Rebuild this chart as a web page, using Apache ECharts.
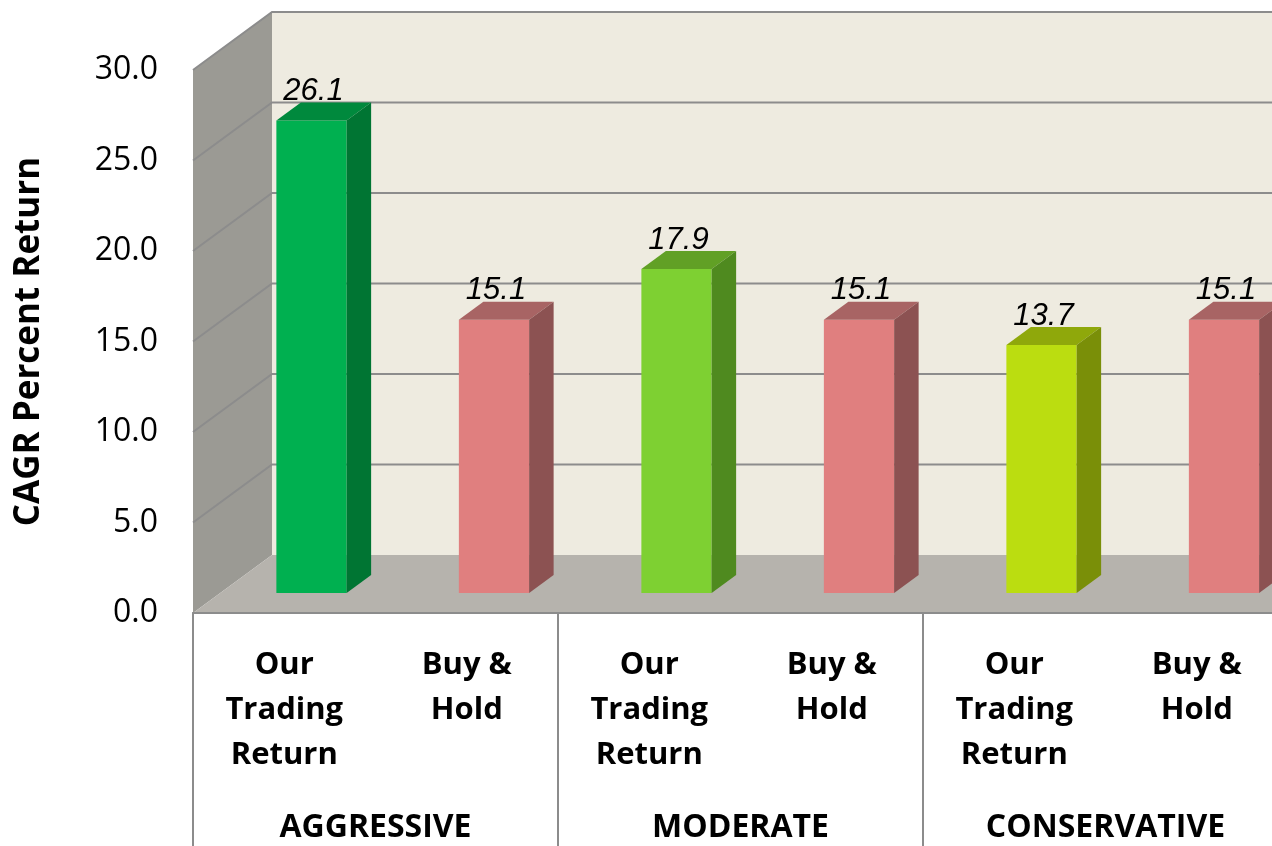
<!DOCTYPE html>
<html>
<head>
<meta charset="utf-8">
<script src="https://cdn.jsdelivr.net/npm/echarts@6/dist/echarts.min.js"></script>
<style>
  html, body { margin: 0; padding: 0; background: #fff; }
  #main { width: 1272px; height: 846px; }
</style>
</head>
<body>
<div id="main"></div>
<script>
// data
const categories = [
  'Our\nTrading\nReturn', 'Buy &\nHold',
  'Our\nTrading\nReturn', 'Buy &\nHold',
  'Our\nTrading\nReturn', 'Buy &\nHold'
]
const groups = ['AGGRESSIVE', 'MODERATE', 'CONSERVATIVE']
const cagrValues = [26.1, 15.1, 17.9, 15.1, 13.7, 15.1]
const yTicks = [0, 5, 10, 15, 20, 25, 30]

// bar colours: front / side / top
const barColors = [
  { front: '#00B050', side: '#007533', top: '#00893D' },
  { front: '#E07F7F', side: '#8C5252', top: '#A86464' },
  { front: '#7ED032', side: '#4F8A1F', top: '#61A025' },
  { front: '#E07F7F', side: '#8C5252', top: '#A86464' },
  { front: '#BBDD10', side: '#7A8F08', top: '#8FA80B' },
  { front: '#E07F7F', side: '#8C5252', top: '#A86464' }
]

// 3D look: depth vector of the floor, bar placed between these depth fractions
const DEPTH = [79, -58]
const BAR_FRONT = 0.345
const BAR_BACK = 0.655
const GRID_COLOR = '#8C8C8C'

const chart = echarts.init(document.getElementById('main'))

// walls + floor + gridlines
const renderWalls = (params, api) => {
  const cs = params.coordSys
  const L = cs.x
  const R = cs.x + cs.width
  const [dx, dy] = DEPTH
  const y0 = api.coord([0, 0])[1]
  const yTop = api.coord([0, yTicks[yTicks.length - 1]])[1]
  const children = [
    { type: 'polygon', shape: { points: [[L + dx, yTop + dy], [R + dx, yTop + dy], [R + dx, y0 + dy], [L + dx, y0 + dy]] },
      style: { fill: '#EEEBE0' } },
    { type: 'polygon', shape: { points: [[L, yTop], [L + dx, yTop + dy], [L + dx, y0 + dy], [L, y0]] },
      style: { fill: '#9B9A94' } },
    { type: 'polygon', shape: { points: [[L, y0], [L + dx, y0 + dy], [R + dx, y0 + dy], [R, y0]] },
      style: { fill: '#B6B3AD' } }
  ]
  yTicks.forEach(v => {
    if (v === 0) return
    const y = api.coord([0, v])[1]
    children.push({
      type: 'polyline',
      shape: { points: [[L, y], [L + dx, y + dy], [R + dx, y + dy]] },
      style: { stroke: GRID_COLOR, lineWidth: 2, fill: null }
    })
  })
  return { type: 'group', children }
}

// one 3D bar
const renderBar = (params, api) => {
  const i = api.value(0)
  const v = api.value(1)
  const base = api.coord([i, 0])
  const top = api.coord([i, v])
  const bw = api.size([1, 0])[0] * 0.385
  const ox = DEPTH[0] * BAR_FRONT
  const oy = DEPTH[1] * BAR_FRONT
  const sx = DEPTH[0] * (BAR_BACK - BAR_FRONT)
  const sy = DEPTH[1] * (BAR_BACK - BAR_FRONT)
  const xl = base[0] - bw / 2 + ox
  const xr = xl + bw
  const yb = base[1] + oy
  const yt = top[1] + oy
  const c = barColors[params.dataIndex]
  return {
    type: 'group',
    children: [
      { type: 'rect', shape: { x: xl, y: yt, width: bw, height: yb - yt }, style: { fill: c.front } },
      { type: 'polygon', shape: { points: [[xl, yt], [xl + sx, yt + sy], [xr + sx, yt + sy], [xr, yt]] }, style: { fill: c.top } },
      { type: 'polygon', shape: { points: [[xr, yt], [xr + sx, yt + sy], [xr + sx, yb + sy], [xr, yb]] }, style: { fill: c.side } },
      {
        type: 'text',
        style: {
          text: v.toFixed(1),
          x: (xl + xr) / 2 + 2,
          y: yt + sy - 11,
          align: 'center',
          verticalAlign: 'middle',
          font: 'italic 31px "Liberation Sans", Arial, sans-serif',
          fill: '#000'
        }
      }
    ]
  }
}

const option = {
  animation: false,
  grid: { left: 193, top: 70, width: 1095, height: 543, outerBoundsMode: 'none', containLabel: false },
  xAxis: [
    {
      type: 'category',
      data: categories,
      position: 'bottom',
      z: 5,
      axisLine: { show: true, lineStyle: { color: GRID_COLOR, width: 2 } },
      axisTick: { show: false },
      axisLabel: {
        interval: 0,
        margin: 30,
        fontFamily: 'Open Sans',
        fontWeight: 'bold',
        fontSize: 31,
        lineHeight: 45,
        color: '#000'
      }
    },
    {
      type: 'category',
      data: groups,
      position: 'bottom',
      z: 5,
      axisLine: { show: true, lineStyle: { color: GRID_COLOR, width: 2 } },
      axisTick: { show: true, interval: 0, length: 240, lineStyle: { color: GRID_COLOR, width: 2 } },
      axisLabel: {
        interval: 0,
        margin: 199,
        fontFamily: 'Open Sans',
        fontWeight: 'bold',
        fontSize: 32,
        color: '#000'
      }
    }
  ],
  yAxis: {
    type: 'value',
    min: 0,
    max: 30,
    interval: 5,
    axisLine: { show: false },
    axisTick: { show: false },
    splitLine: { show: false },
    axisLabel: {
      formatter: v => v.toFixed(1),
      margin: 35,
      fontFamily: 'Open Sans',
      fontSize: 32,
      color: '#000'
    },
    name: 'CAGR Percent Return',
    nameLocation: 'middle',
    nameRotate: 90,
    nameGap: 146,
    nameTextStyle: { fontFamily: 'Open Sans', fontWeight: 'bold', fontSize: 35, color: '#000' }
  },
  series: [
    { type: 'custom', xAxisIndex: 0, renderItem: renderWalls, data: [[0, 0]], z: 1, silent: true },
    { type: 'custom', xAxisIndex: 0, renderItem: renderBar, data: cagrValues.map((v, i) => [i, v]), z: 2 }
  ]
}

chart.setOption(option)
window.addEventListener('resize', () => chart.resize())
</script>
</body>
</html>
